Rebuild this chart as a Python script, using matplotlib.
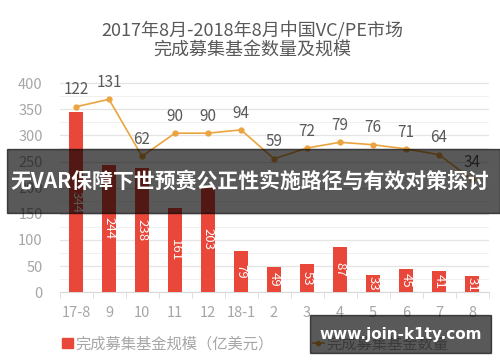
import numpy as np
import matplotlib
matplotlib.use("Agg")
import matplotlib.pyplot as plt
from matplotlib.patches import Rectangle, Patch
from matplotlib.lines import Line2D
from matplotlib.ticker import MultipleLocator, FixedLocator

plt.rcParams['font.family'] = ['Noto Sans CJK SC', 'DejaVu Sans']

months = ["17-8", "9", "10", "11", "12", "18-1", "2", "3", "4", "5", "6", "7", "8"]
fund_size = [344, 244, 238, 161, 203, 79, 49, 53, 87, 33, 45, 41, 31]
fund_count = [122, 131, 62, 90, 90, 94, 59, 72, 79, 76, 71, 64, 34]

title = "2017年8月-2018年8月中国VC/PE市场\n完成募集基金数量及规模"
size_label = "完成募集基金规模（亿美元）"
count_label = "完成募集基金数量"
banner = "无VAR保障下世预赛公正性实施路径与有效对策探讨"
watermark = "www.join-k1ty.com"

bar_color = "#E8473A"
line_color = "#EBA43F"
tick_gray = "#A6A6A6"
text_gray = "#595959"

fig = plt.figure(figsize=(5, 3.62), dpi=100)
ax = fig.add_axes([0.119, 0.193, 0.858, 0.586])
x = np.arange(len(months))

bars = ax.bar(x, fund_size, width=0.42, color=bar_color, zorder=3)
ax.bar_label(bars, labels=[str(v) for v in fund_size], label_type='center',
             rotation=270, color="white", fontsize=9.5, zorder=4)

ax.set_xlim(-0.5, len(months) - 0.5)
ax.set_ylim(0, 406)
ax.yaxis.set_major_locator(FixedLocator(range(0, 401, 50)))
ax.yaxis.set_minor_locator(MultipleLocator(25))
ax.grid(axis='y', which='major', color="#E4E4E4", lw=0.9, zorder=0)
ax.grid(axis='y', which='minor', color="#F0F0F0", lw=0.7, zorder=0)
ax.set_xticks(x)
ax.set_xticklabels(months)
ax.xaxis.set_minor_locator(FixedLocator(np.arange(-0.5, len(months), 1.0)))
ax.tick_params(axis='x', which='major', length=0, pad=10, labelsize=10.5, labelcolor=tick_gray)
ax.tick_params(axis='x', which='minor', length=4, color="#D9D9D9", direction='out')
ax.tick_params(axis='y', which='both', length=0, pad=12, labelsize=10.5, labelcolor=tick_gray)
for s in ["top", "right", "left"]:
    ax.spines[s].set_visible(False)
ax.spines["bottom"].set_color("#D9D9D9")

ax2 = ax.twinx()
ax2.set_ylim(-102.5, 154.4)
ax2.plot(x, fund_count, color=line_color, lw=1.2, marker='o', ms=3.5, zorder=5)
for xi, v in zip(x, fund_count):
    ax2.annotate(str(v), (xi, v), xytext=(0, 6), textcoords='offset points',
                 ha='center', va='bottom', fontsize=11, color=text_gray)
ax2.axis('off')

fig.text(0.505, 0.889, title, ha='center', va='center', fontsize=13, color=text_gray,
         linespacing=1.05)

handles = [Patch(color=bar_color), Line2D([0], [0], color=line_color, lw=1.2, marker='o', ms=3)]
fig.legend(handles, [size_label, count_label], ncol=2, loc='center',
           bbox_to_anchor=(0.51, 0.05), frameon=False, fontsize=11,
           labelcolor=tick_gray, handlelength=0.7, handleheight=0.7,
           handletextpad=0.15, columnspacing=2.6)

fig.patches.append(Rectangle((0.014, 0.4116), 0.986, 0.1768, transform=fig.transFigure,
                             color="black", alpha=0.65, zorder=10))
fig.text(0.5, 0.50, banner, ha='center', va='center', fontsize=15,
         fontweight='bold', color="white", zorder=11)

fig.patches.append(Rectangle((0.62, 0.025), 0.362, 0.105, transform=fig.transFigure,
                             color="black", alpha=0.65, zorder=10))
fig.text(0.801, 0.077, watermark, ha='center', va='center', fontsize=11,
         fontweight='bold', color="white", family=['DejaVu Sans'], zorder=11)

fig.savefig("out.png", dpi=100)
